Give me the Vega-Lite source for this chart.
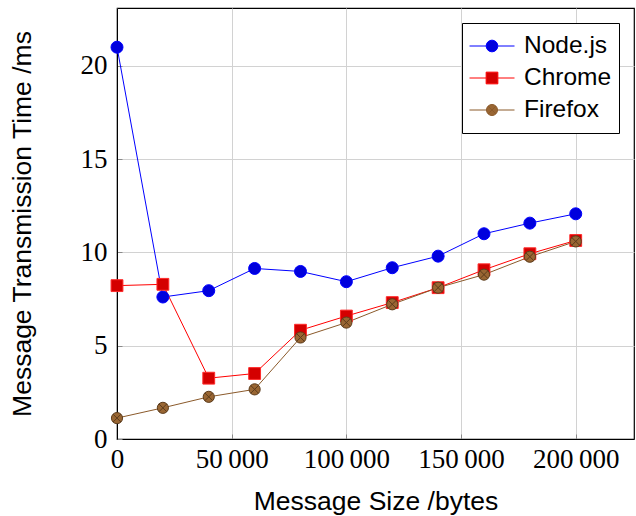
{
  "$schema": "https://vega.github.io/schema/vega-lite/v6.json",
  "width": 517,
  "height": 431,
  "autosize": {"type": "none"},
  "padding": {"left": 117, "top": 8, "right": 2, "bottom": 77},
  "config": {
    "view": {"stroke": "black", "strokeWidth": 1.2},
    "axis": {
      "domainColor": "black",
      "gridColor": "#d2d2d2",
      "gridWidth": 1,
      "ticks": true,
      "tickSize": -5,
      "tickColor": "#8a8a8a",
      "tickWidth": 1,
      "labelFont": "Liberation Serif",
      "labelFontSize": 27,
      "labelColor": "black",
      "titleFont": "Liberation Sans",
      "titleFontSize": 26.5,
      "titleFontWeight": "normal",
      "titleColor": "black"
    }
  },
  "data": {
    "values": [
      {"size": 0, "time": 21.0, "browser": "Node.js"},
      {"size": 20000, "time": 7.61, "browser": "Node.js"},
      {"size": 40000, "time": 7.95, "browser": "Node.js"},
      {"size": 60000, "time": 9.14, "browser": "Node.js"},
      {"size": 80000, "time": 8.98, "browser": "Node.js"},
      {"size": 100000, "time": 8.43, "browser": "Node.js"},
      {"size": 120000, "time": 9.18, "browser": "Node.js"},
      {"size": 140000, "time": 9.8, "browser": "Node.js"},
      {"size": 160000, "time": 11.0, "browser": "Node.js"},
      {"size": 180000, "time": 11.57, "browser": "Node.js"},
      {"size": 200000, "time": 12.07, "browser": "Node.js"},
      {"size": 0, "time": 8.22, "browser": "Chrome"},
      {"size": 20000, "time": 8.29, "browser": "Chrome"},
      {"size": 40000, "time": 3.26, "browser": "Chrome"},
      {"size": 60000, "time": 3.51, "browser": "Chrome"},
      {"size": 80000, "time": 5.83, "browser": "Chrome"},
      {"size": 100000, "time": 6.59, "browser": "Chrome"},
      {"size": 120000, "time": 7.31, "browser": "Chrome"},
      {"size": 140000, "time": 8.11, "browser": "Chrome"},
      {"size": 160000, "time": 9.07, "browser": "Chrome"},
      {"size": 180000, "time": 9.93, "browser": "Chrome"},
      {"size": 200000, "time": 10.64, "browser": "Chrome"},
      {"size": 0, "time": 1.12, "browser": "Firefox"},
      {"size": 20000, "time": 1.67, "browser": "Firefox"},
      {"size": 40000, "time": 2.26, "browser": "Firefox"},
      {"size": 60000, "time": 2.66, "browser": "Firefox"},
      {"size": 80000, "time": 5.44, "browser": "Firefox"},
      {"size": 100000, "time": 6.24, "browser": "Firefox"},
      {"size": 120000, "time": 7.22, "browser": "Firefox"},
      {"size": 140000, "time": 8.11, "browser": "Firefox"},
      {"size": 160000, "time": 8.81, "browser": "Firefox"},
      {"size": 180000, "time": 9.77, "browser": "Firefox"},
      {"size": 200000, "time": 10.59, "browser": "Firefox"}
    ]
  },
  "encoding": {
    "x": {
      "field": "size",
      "type": "quantitative",
      "title": "Message Size /bytes",
      "scale": {"domain": [0, 225400], "nice": false, "zero": false},
      "axis": {
        "values": [0, 50000, 100000, 150000, 200000],
        "labelExpr": "replace(format(datum.value, ','), ',', '\u2009')",
        "labelPadding": 12,
        "titlePadding": 16,
        "labelFlush": false
      }
    },
    "y": {
      "field": "time",
      "type": "quantitative",
      "title": "Message Transmission Time /ms",
      "scale": {"domain": [0, 23.1], "nice": false},
      "axis": {
        "values": [0, 5, 10, 15, 20],
        "labelPadding": 15,
        "titlePadding": 44,
        "labelFlush": false
      }
    }
  },
  "layer": [
    {
      "mark": {"type": "line", "strokeWidth": 1},
      "encoding": {
        "color": {
          "field": "browser",
          "type": "nominal",
          "sort": ["Node.js", "Chrome", "Firefox"],
          "scale": {"domain": ["Node.js", "Chrome", "Firefox"], "range": ["#0000ff", "#ff0000", "#8b5a2b"]},
          "legend": {
            "title": null,
            "orient": "top-right",
            "offset": 15,
            "fillColor": "white",
            "strokeColor": "black",
            "padding": 7,
            "symbolSize": 2025,
            "symbolStrokeWidth": 1,
            "labelFont": "Liberation Sans",
            "labelFontSize": 24.5,
            "labelColor": "black",
            "labelOffset": 9,
            "clipHeight": 32,
            "rowPadding": 0,
            "encode": {
              "symbols": {
                "update": {
                  "shape": {"signal": "datum.value === 'Chrome' ? 'M -1 0 L -0.26 0 L -0.26 -0.26 L 0.26 -0.26 L 0.26 0.26 L -0.26 0.26 L -0.26 0 M 0.26 0 L 1 0' : (datum.value === 'Firefox' ? 'M -1 0 L -0.245 0 A 0.245 0.245 0 1 1 0.245 0 A 0.245 0.245 0 1 1 -0.245 0 M 0.245 0 L 1 0 M -0.173 -0.173 L 0.173 0.173 M -0.173 0.173 L 0.173 -0.173' : 'M -1 0 L -0.26 0 A 0.26 0.26 0 1 1 0.26 0 A 0.26 0.26 0 1 1 -0.26 0 M 0.26 0 L 1 0')"},
                  "fill": {"signal": "datum.value === 'Chrome' ? '#d40000' : (datum.value === 'Firefox' ? '#996633' : '#0000dd')"},
                  "stroke": {"signal": "datum.value === 'Chrome' ? '#ff0000' : (datum.value === 'Firefox' ? '#8b6a4a' : '#0000ff')"},
                  "opacity": {"value": 1},
                  "fillOpacity": {"value": 1},
                  "strokeWidth": {"value": 1}
                }
              }
            }
          }
        }
      }
    },
    {
      "transform": [{"filter": "datum.browser === 'Node.js'"}],
      "mark": {"type": "point", "shape": "circle", "filled": true, "opacity": 1, "size": 144, "fill": "#0000dd", "stroke": "#0000ff", "strokeWidth": 1}
    },
    {
      "transform": [{"filter": "datum.browser === 'Chrome'"}],
      "mark": {"type": "point", "shape": "square", "filled": true, "opacity": 1, "size": 140, "fill": "#d40000", "stroke": "#ff2a2a", "strokeWidth": 1}
    },
    {
      "transform": [{"filter": "datum.browser === 'Firefox'"}],
      "mark": {"type": "point", "shape": "M -1 0 A 1 1 0 1 1 1 0 A 1 1 0 1 1 -1 0 Z M -0.707 -0.707 L 0.707 0.707 M -0.707 0.707 L 0.707 -0.707", "filled": true, "opacity": 1, "size": 125, "fill": "#996633", "stroke": "#5c3c1c", "strokeWidth": 1}
    }
  ]
}
